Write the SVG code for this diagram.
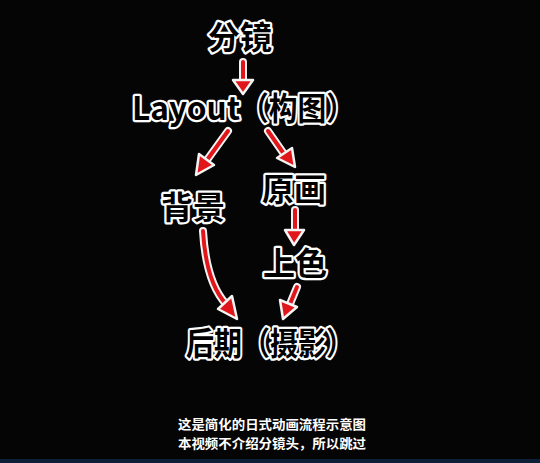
<svg xmlns="http://www.w3.org/2000/svg" width="540" height="463" viewBox="0 0 540 463">
<defs>
<style>
.lbl{font-family:"Noto Sans CJK SC","Liberation Sans",sans-serif;font-weight:bold;font-size:32px;fill:#000;stroke:#fff;stroke-width:4.5px;stroke-linejoin:round;paint-order:stroke;}
.cap{font-family:"Noto Sans CJK SC","Liberation Sans",sans-serif;font-weight:bold;font-size:13px;fill:#fff;}
.sh-o{fill:none;stroke:#f4f4f4;stroke-width:8;stroke-linecap:round;}
.sh{fill:none;stroke:#e0161b;stroke-width:4;stroke-linecap:round;}
.hd{fill:#e0161b;stroke:#f4f4f4;stroke-width:2.5;stroke-linejoin:round;}
</style>
</defs>
<rect width="540" height="463" fill="#050505"/>
<rect x="0" y="459" width="540" height="4" fill="#0d2038"/>
<g id="connectors">
  <path class="sh-o" d="M243,62 L243,82"/>
  <path class="sh" d="M243,62 L243,82"/>
  <path class="hd" d="M233,80 L253,80 L243,94 Z"/>
  <path class="sh-o" d="M228,131 L207,160"/>
  <path class="sh" d="M228,131 L207,160"/>
  <path class="hd" d="M199,154 L214,165 L196,175 Z"/>
  <path class="sh-o" d="M268,131 L284,154"/>
  <path class="sh" d="M268,131 L284,154"/>
  <path class="hd" d="M277,158 L292,148 L295,167 Z"/>
  <path class="sh-o" d="M203,231 Q206,282 226,304"/>
  <path class="sh" d="M203,231 Q206,282 226,304"/>
  <path class="hd" d="M218,309 L232,296 L237,319 Z"/>
  <path class="sh-o" d="M295,210 L295,231"/>
  <path class="sh" d="M295,210 L295,231"/>
  <path class="hd" d="M285,230 L304,230 L294,245 Z"/>
  <path class="sh-o" d="M297,287 L290,304"/>
  <path class="sh" d="M297,287 L290,304"/>
  <path class="hd" d="M280,300 L297,307 L283,319 Z"/>
</g>
<g id="node-fenjing"><text class="lbl" x="240" y="49" text-anchor="middle">分镜</text></g>
<g id="node-layout"><text class="lbl" y="120"><tspan x="132" textLength="108" lengthAdjust="spacingAndGlyphs">Layout</tspan><tspan x="240" textLength="115" lengthAdjust="spacingAndGlyphs">（构图）</tspan></text></g>
<g id="node-beijing"><text class="lbl" x="193" y="219" text-anchor="middle">背景</text></g>
<g id="node-yuanhua"><text class="lbl" x="294" y="201" text-anchor="middle">原画</text></g>
<g id="node-shangse"><text class="lbl" x="295" y="275" text-anchor="middle">上色</text></g>
<g id="node-houqi"><text class="lbl" x="186" y="355" textLength="168" lengthAdjust="spacingAndGlyphs">后期（摄影）</text></g>
<g id="caption">
  <text class="cap" x="272" y="429" text-anchor="middle" textLength="188" lengthAdjust="spacingAndGlyphs">这是简化的日式动画流程示意图</text>
  <text class="cap" x="272" y="448" text-anchor="middle" textLength="188" lengthAdjust="spacingAndGlyphs">本视频不介绍分镜头，所以跳过</text>
</g>
</svg>
